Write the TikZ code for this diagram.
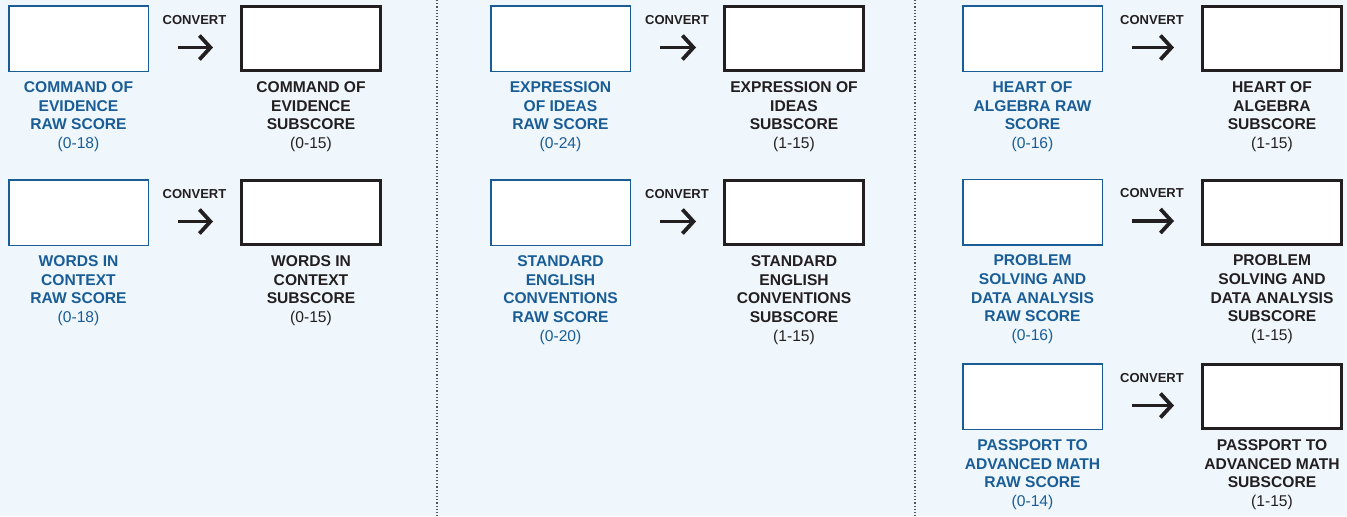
\documentclass[tikz,border=0pt]{standalone}
\usepackage{fontspec}
\setmainfont{Liberation Sans}
\usetikzlibrary{arrows.meta, positioning}

\definecolor{pagebg}{HTML}{EFF7FD}
\definecolor{rawblue}{HTML}{1A5D96}
\definecolor{inkblack}{HTML}{231F20}
\definecolor{sepgray}{HTML}{50555B}

\begin{document}
\begin{tikzpicture}[
  x=0.5pt, y=-0.5pt,
  node distance=4.5pt,
  rawbox/.style={rectangle, draw=rawblue, fill=white, line width=0.75pt, minimum width=69.75pt, minimum height=32.75pt, inner sep=0pt},
  subbox/.style={rectangle, draw=inkblack, fill=white, line width=1.5pt, minimum width=69.5pt, minimum height=32pt, inner sep=0pt},
  rawlbl/.style={align=center, inner sep=0pt, text=rawblue, font=\fontsize{7.8}{9.35}\selectfont\bfseries},
  sublbl/.style={align=center, inner sep=0pt, text=inkblack, font=\fontsize{7.8}{9.35}\selectfont\bfseries},
  conv/.style={inner sep=0pt, text=inkblack, font=\fontsize{6.5}{7}\selectfont\bfseries},
  arr/.style={-{Straight Barb[length=5.5pt, width=12pt, line width=1.9pt]}, line width=1.9pt, inkblack, shorten <=14.5pt, shorten >=13.5pt},
  sep/.style={densely dotted, sepgray, line width=0.6pt}
  ]
  \fill[pagebg] (0,0) rectangle (1347,516);
  \useasboundingbox (0,0) rectangle (1347,516);

  \draw[sep] (437,0) -- (437,516);
  \draw[sep] (915,0) -- (915,516);

  % reading and writing, left column
  \node[rawbox] (coe) at (78.5,38.5) {};
  \node[subbox] (coes) at (311,38.5) {};
  \node[rawlbl, below=of coe] {COMMAND OF\\EVIDENCE\\RAW SCORE\\{\mdseries (0-18)}};
  \node[sublbl, below=of coes] {COMMAND OF\\EVIDENCE\\SUBSCORE\\{\mdseries (0-15)}};

  \node[rawbox] (wic) at (78.5,212.5) {};
  \node[subbox] (wics) at (311,212.5) {};
  \node[rawlbl, below=of wic] {WORDS IN\\CONTEXT\\RAW SCORE\\{\mdseries (0-18)}};
  \node[sublbl, below=of wics] {WORDS IN\\CONTEXT\\SUBSCORE\\{\mdseries (0-15)}};

  % reading and writing, middle column
  \node[rawbox] (eoi) at (560.5,38.5) {};
  \node[subbox] (eois) at (794,38.5) {};
  \node[rawlbl, below=of eoi] {EXPRESSION\\OF IDEAS\\RAW SCORE\\{\mdseries (0-24)}};
  \node[sublbl, below=of eois] {EXPRESSION OF\\IDEAS\\SUBSCORE\\{\mdseries (1-15)}};

  \node[rawbox] (sec) at (560.5,212.5) {};
  \node[subbox] (secs) at (794,212.5) {};
  \node[rawlbl, below=of sec] {STANDARD\\ENGLISH\\CONVENTIONS\\RAW SCORE\\{\mdseries (0-20)}};
  \node[sublbl, below=of secs] {STANDARD\\ENGLISH\\CONVENTIONS\\SUBSCORE\\{\mdseries (1-15)}};

  % math, right column
  \node[rawbox] (hoa) at (1032.5,38.5) {};
  \node[subbox] (hoas) at (1272,38.5) {};
  \node[rawlbl, below=of hoa] {HEART OF\\ALGEBRA RAW\\SCORE\\{\mdseries (0-16)}};
  \node[sublbl, below=of hoas] {HEART OF\\ALGEBRA\\SUBSCORE\\{\mdseries (1-15)}};

  \node[rawbox] (psda) at (1032.5,212) {};
  \node[subbox] (psdas) at (1272,212) {};
  \node[rawlbl, below=of psda] {PROBLEM\\SOLVING AND\\DATA ANALYSIS\\RAW SCORE\\{\mdseries (0-16)}};
  \node[sublbl, below=of psdas] {PROBLEM\\SOLVING AND\\DATA ANALYSIS\\SUBSCORE\\{\mdseries (1-15)}};

  \node[rawbox] (pam) at (1032.5,396.5) {};
  \node[subbox] (pams) at (1272,396.5) {};
  \node[rawlbl, below=of pam] {PASSPORT TO\\ADVANCED MATH\\RAW SCORE\\{\mdseries (0-14)}};
  \node[sublbl, below=of pams] {PASSPORT TO\\ADVANCED MATH\\SUBSCORE\\{\mdseries (1-15)}};

  % convert arrows
  \draw[arr] ([yshift=-4.5pt]coe.east) -- node[conv, midway, yshift=13.75pt] {CONVERT} ([yshift=-4.5pt]coes.west);
  \draw[arr] ([yshift=-4.5pt]wic.east) -- node[conv, midway, yshift=13.75pt] {CONVERT} ([yshift=-4.5pt]wics.west);
  \draw[arr] ([yshift=-4.5pt]eoi.east) -- node[conv, midway, yshift=13.75pt] {CONVERT} ([yshift=-4.5pt]eois.west);
  \draw[arr] ([yshift=-4.5pt]sec.east) -- node[conv, midway, yshift=13.75pt] {CONVERT} ([yshift=-4.5pt]secs.west);
  \draw[arr] ([yshift=-4.5pt]hoa.east) -- node[conv, midway, yshift=13.75pt] {CONVERT} ([yshift=-4.5pt]hoas.west);
  \draw[arr] ([yshift=-4.5pt]psda.east) -- node[conv, midway, yshift=13.75pt] {CONVERT} ([yshift=-4.5pt]psdas.west);
  \draw[arr] ([yshift=-4.5pt]pam.east) -- node[conv, midway, yshift=13.75pt] {CONVERT} ([yshift=-4.5pt]pams.west);
\end{tikzpicture}
\end{document}
